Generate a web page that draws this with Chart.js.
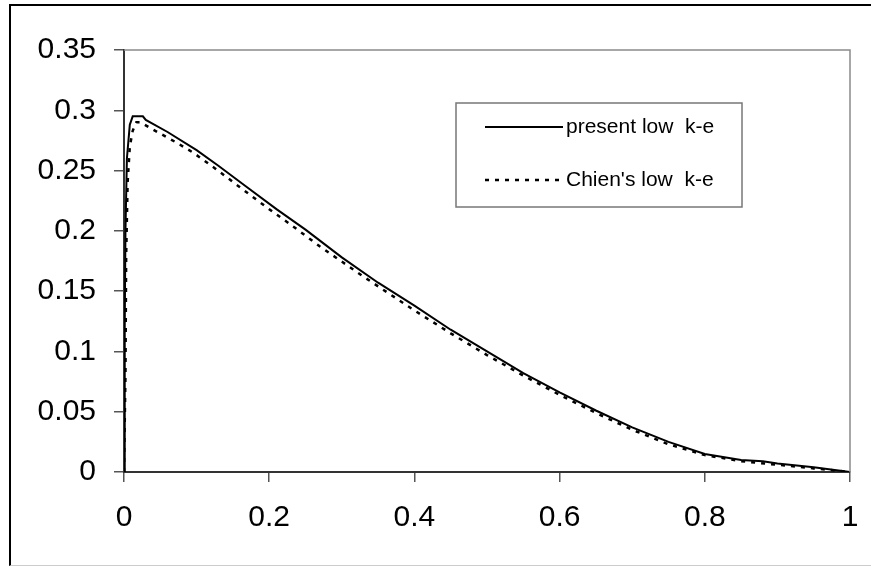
<!DOCTYPE html>
<html>
<head>
<meta charset="utf-8">
<script src="https://cdn.jsdelivr.net/npm/chart.js@4/dist/chart.umd.min.js"></script>
<style>
  html, body { margin: 0; padding: 0; background: #fff; }
  #wrap { position: relative; width: 871px; height: 566px; }
  #frame {
    position: absolute; left: 9px; top: 4px; right: -10px; bottom: 0;
    border-left: 2px solid #000; border-top: 2px solid #000; border-bottom: 1px solid #ccc;
    pointer-events: none;
  }
  canvas { position: absolute; left: 0; top: 0; }
</style>
</head>
<body>
<div id="wrap">
  <canvas id="chart" width="871" height="566"></canvas>
  <div id="frame"></div>
</div>
<script>
// values
const presentX = [0, 0.001, 0.002, 0.004, 0.008, 0.012, 0.026, 0.03, 0.06, 0.1, 0.13, 0.17, 0.21, 0.25, 0.3, 0.35, 0.4, 0.45, 0.5, 0.55, 0.6, 0.65, 0.7, 0.75, 0.8, 0.85, 0.88, 0.9, 0.95, 1.0];
const presentY = [0, 0.12, 0.2, 0.26, 0.288, 0.295, 0.295, 0.292, 0.282, 0.267, 0.254, 0.236, 0.218, 0.201, 0.178, 0.157, 0.138, 0.118, 0.100, 0.082, 0.066, 0.051, 0.037, 0.025, 0.015, 0.010, 0.009, 0.007, 0.004, 0];

const chienX = [0, 0.002, 0.003, 0.005, 0.008, 0.012, 0.017, 0.023, 0.037, 0.07, 0.095, 0.125, 0.16, 0.2, 0.23, 0.27, 0.33, 0.4, 0.45, 0.5, 0.55, 0.6, 0.65, 0.7, 0.75, 0.8, 0.85, 0.9, 0.95, 1.0];
const chienY = [0, 0.08, 0.18, 0.24, 0.27, 0.283, 0.29, 0.29, 0.285, 0.274, 0.265, 0.252, 0.236, 0.218, 0.205, 0.187, 0.162, 0.134, 0.115, 0.097, 0.080, 0.064, 0.049, 0.035, 0.023, 0.014, 0.009, 0.006, 0.003, 0];

const seriesLabels = ['present low  k-e', "Chien's low  k-e"];

const toPoints = (xs, ys) => xs.map((x, i) => ({ x: x, y: ys[i] }));
const plainNum = v => String(+Number(v).toFixed(2));

// box legend drawn inside the plot, plus gray top/right plot border
const boxLegend = {
  id: 'boxLegend',
  afterDatasetsDraw(chart) {
    const ctx = chart.ctx;
    const a = chart.chartArea;
    ctx.save();
    ctx.strokeStyle = '#8a8a8a';
    ctx.lineWidth = 1.5;
    ctx.beginPath();
    ctx.moveTo(a.left, a.top);
    ctx.lineTo(a.right, a.top);
    ctx.lineTo(a.right, a.bottom);
    ctx.stroke();

    ctx.strokeStyle = '#777';
    ctx.lineWidth = 1.5;
    ctx.strokeRect(456, 103, 286, 104);

    const rows = [127, 180];
    ctx.font = '21px "Liberation Sans", Arial, sans-serif';
    ctx.fillStyle = '#000';
    ctx.textBaseline = 'middle';
    chart.data.datasets.forEach((ds, i) => {
      ctx.strokeStyle = '#000';
      ctx.lineWidth = ds.borderWidth;
      ctx.setLineDash(ds.borderDash || []);
      ctx.beginPath();
      ctx.moveTo(485, rows[i]);
      ctx.lineTo(563, rows[i]);
      ctx.stroke();
      ctx.setLineDash([]);
      ctx.fillText(ds.label, 566, rows[i]);
    });
    ctx.restore();
  }
};

new Chart(document.getElementById('chart').getContext('2d'), {
  type: 'scatter',
  data: {
    datasets: [
      {
        label: seriesLabels[0],
        data: toPoints(presentX, presentY),
        showLine: true,
        borderColor: '#000',
        borderWidth: 2,
        pointRadius: 0,
        tension: 0
      },
      {
        label: seriesLabels[1],
        data: toPoints(chienX, chienY),
        showLine: true,
        borderColor: '#000',
        borderWidth: 2.5,
        borderDash: [4, 6],
        pointRadius: 0,
        tension: 0
      }
    ]
  },
  options: {
    responsive: false,
    animation: false,
    layout: { padding: { top: 50, right: 21, left: 0, bottom: 0 } },
    plugins: {
      legend: { display: false },
      tooltip: { enabled: false }
    },
    scales: {
      x: {
        type: 'linear',
        min: 0, max: 1,
        afterFit(scale) {
          scale.height = 94;
          scale.paddingLeft = 0;
          scale.paddingRight = 0;
        },
        ticks: {
          stepSize: 0.2,
          color: '#000',
          padding: 18,
          maxRotation: 0,
          callback: plainNum,
          font: { family: '"Liberation Sans", Arial, sans-serif', size: 30 }
        },
        grid: { drawOnChartArea: false, drawTicks: true, tickLength: 10, color: '#555', lineWidth: 1.5 },
        border: { color: '#333', width: 2 }
      },
      y: {
        type: 'linear',
        min: 0, max: 0.35,
        afterFit(scale) {
          scale.width = 124;
          scale.paddingTop = 0;
          scale.paddingBottom = 0;
        },
        ticks: {
          stepSize: 0.05,
          color: '#000',
          padding: 18,
          callback: plainNum,
          font: { family: '"Liberation Sans", Arial, sans-serif', size: 30 }
        },
        grid: { drawOnChartArea: false, drawTicks: true, tickLength: 10, color: '#555', lineWidth: 1.5 },
        border: { color: '#333', width: 2 }
      }
    }
  },
  plugins: [boxLegend]
});
</script>
</body>
</html>
